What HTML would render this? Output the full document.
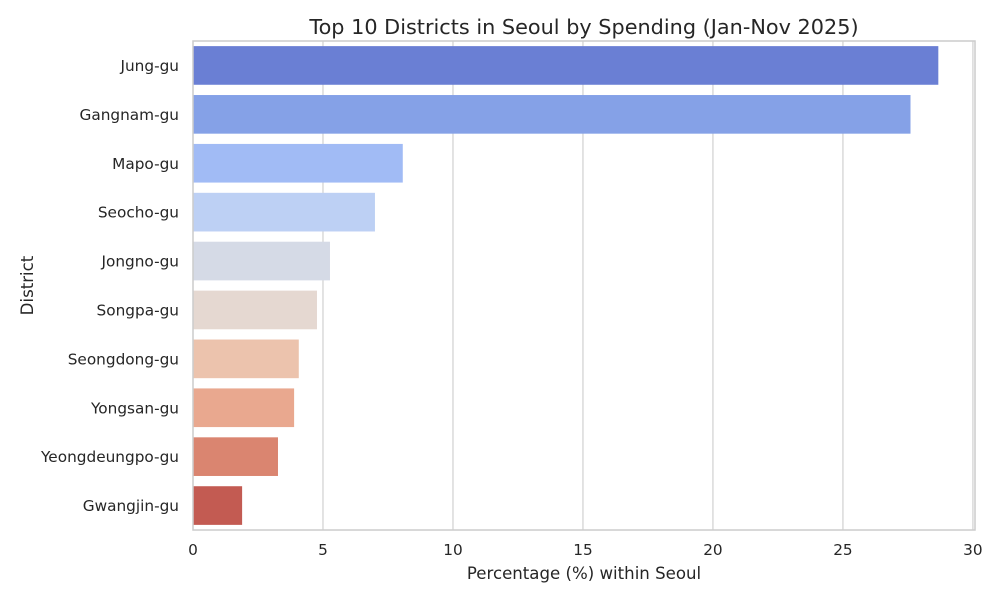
<!DOCTYPE html>
<html><head><meta charset="utf-8"><style>
body{margin:0;background:#fff;font-family:"DejaVu Sans","Liberation Sans",sans-serif;}
</style></head><body>
<svg id="chart" width="1000" height="600" style="font-family:'DejaVu Sans','Liberation Sans',sans-serif"></svg>
<script>
const categories=["Jung-gu","Gangnam-gu","Mapo-gu","Seocho-gu","Jongno-gu","Songpa-gu","Seongdong-gu","Yongsan-gu","Yeongdeungpo-gu","Gwangjin-gu"];
const values=[28.65,27.58,8.05,6.98,5.25,4.75,4.05,3.87,3.25,1.87];
const colors=["#6a7fd4","#85a1e7","#a1bbf5","#bdd0f4","#d5dae6","#e5d8d1","#ecc3ad","#e9a88f","#da8570","#c35b52"];
const xTicks=[0,5,10,15,20,25,30];
const svg=document.getElementById('chart');
const NS="http://www.w3.org/2000/svg";
const L=193,R=975,T=41,B=530,xMax=30.08;
const xs=v=>L+v/xMax*(R-L);
const band=(B-T)/categories.length;
const ys=i=>T+i*band;
function mk(t,a,p){const e=document.createElementNS(NS,t);for(const k in a)e.setAttribute(k,a[k]);(p||svg).appendChild(e);return e;}
const grid=mk('g',{});


xTicks.forEach(t=>{
  const ln=mk('line',{x1:xs(t),x2:xs(t),y1:T,y2:B,stroke:'#cccccc','stroke-width':1.1},grid);
  
  
  const tx=mk('text',{x:xs(t),y:B+25,'text-anchor':'middle','font-size':15.3,fill:'#262626'});
  tx.textContent=t;
  
  
});
categories.forEach((c,i)=>{
  const y=ys(i)+band*0.115,h=band*0.77;
  const r=mk('rect',{x:L,y:y,width:xs(values[i])-L,height:h,fill:colors[i],stroke:colors[i],'stroke-width':1});
  
  
  const tx=mk('text',{x:L-14,y:ys(i)+band/2+5.5,'text-anchor':'end','font-size':15.3,fill:'#262626'});
  tx.textContent=c;
  
  
});
const fr=mk('rect',{x:L,y:T,width:R-L,height:B-T,fill:'none',stroke:'#cccccc','stroke-width':1.5});


const ti=mk('text',{x:584,y:34,'text-anchor':'middle','font-size':20.8,fill:'#262626'});
ti.textContent="Top 10 Districts in Seoul by Spending (Jan-Nov 2025)";


const xl=mk('text',{x:584,y:579,'text-anchor':'middle','font-size':16.6,fill:'#262626'});
xl.textContent="Percentage (%) within Seoul";


const yl=mk('text',{x:33,y:(T+B)/2,'text-anchor':'middle','font-size':16.6,fill:'#262626',transform:`rotate(-90 33 ${(T+B)/2})`});
yl.textContent="District";


</script>
</body></html>
